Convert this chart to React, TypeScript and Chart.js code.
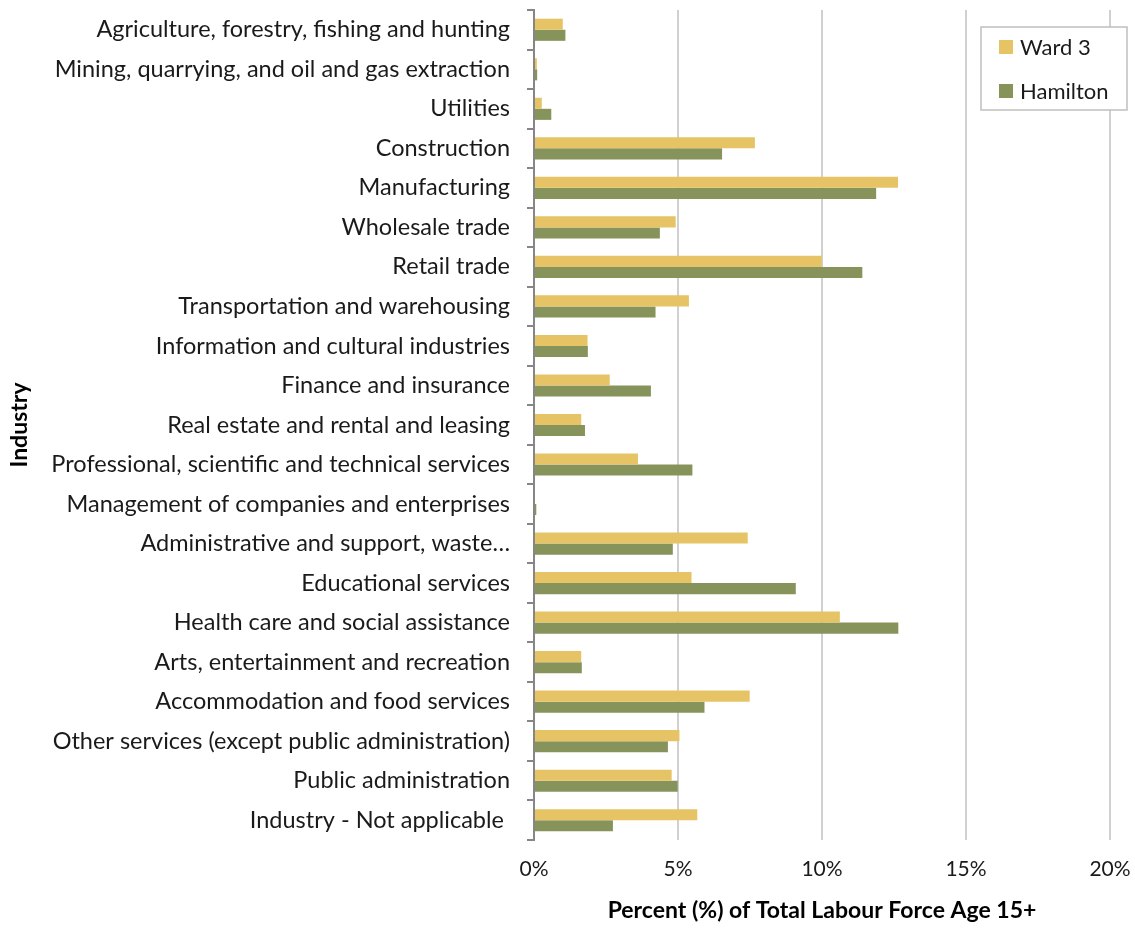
import React, { useEffect, useRef } from "react";
import { Chart, registerables } from "chart.js";

Chart.register(...registerables);

const categories: string[] = [
  "Agriculture, forestry, fishing and hunting",
  "Mining, quarrying, and oil and gas extraction",
  "Utilities",
  "Construction",
  "Manufacturing",
  "Wholesale trade",
  "Retail trade",
  "Transportation and warehousing",
  "Information and cultural industries",
  "Finance and insurance",
  "Real estate and rental and leasing",
  "Professional, scientific and technical services",
  "Management of companies and enterprises",
  "Administrative and support, waste…",
  "Educational services",
  "Health care and social assistance",
  "Arts, entertainment and recreation",
  "Accommodation and food services",
  "Other services (except public administration)",
  "Public administration",
  "Industry - Not applicable ",
];

const ward3: number[] = [
  1.0, 0.1, 0.27, 7.67, 12.64, 4.92, 9.99, 5.38, 1.86, 2.63, 1.64, 3.61, 0.0,
  7.42, 5.47, 10.62, 1.64, 7.49, 5.05, 4.78, 5.67,
];

const hamilton: number[] = [
  1.09, 0.11, 0.6, 6.53, 11.88, 4.37, 11.4, 4.22, 1.87, 4.06, 1.77, 5.5, 0.08,
  4.82, 9.09, 12.65, 1.66, 5.92, 4.65, 4.99, 2.74,
];

const seriesNames: string[] = ["Ward 3", "Hamilton"];
const seriesColors: string[] = ["#E6C466", "#86945C"];
const xTicks: number[] = [0, 5, 10, 15, 20];

const FONT = "Lato, 'Open Sans', sans-serif";

const legendBoxPlugin = {
  id: "legendBox",
  afterDraw(chart: any) {
    const { ctx, chartArea } = chart;
    const x = chartArea.right - 129;
    const y = chartArea.top + 17;
    const w = 146;
    const h = 83;
    ctx.save();
    ctx.fillStyle = "#ffffff";
    ctx.fillRect(x, y, w, h);
    ctx.strokeStyle = "#bfbfbf";
    ctx.lineWidth = 1.5;
    ctx.strokeRect(x, y, w, h);
    ctx.font = `22px ${FONT}`;
    ctx.textBaseline = "middle";
    ctx.textAlign = "left";
    chart.data.datasets.forEach((ds: any, i: number) => {
      const cy = y + 20 + i * 44;
      ctx.fillStyle = ds.backgroundColor;
      ctx.fillRect(x + 18, cy - 7, 14, 14);
      ctx.fillStyle = "#1a1a1a";
      ctx.fillText(ds.label, x + 39, cy + 1);
    });
    ctx.restore();
  },
};

export default function App() {
  const canvasRef = useRef<HTMLCanvasElement | null>(null);

  useEffect(() => {
    document.body.style.margin = "0";
    const canvas = canvasRef.current;
    if (!canvas) return;
    const chart = new Chart(canvas, {
      type: "bar",
      data: {
        labels: categories,
        datasets: [
          {
            label: seriesNames[0],
            data: ward3,
            backgroundColor: seriesColors[0],
            borderWidth: 0,
            categoryPercentage: 0.56,
            barPercentage: 1.0,
          },
          {
            label: seriesNames[1],
            data: hamilton,
            backgroundColor: seriesColors[1],
            borderWidth: 0,
            categoryPercentage: 0.56,
            barPercentage: 1.0,
          },
        ],
      },
      options: {
        indexAxis: "y",
        animation: false,
        responsive: false,
        maintainAspectRatio: false,
        layout: { padding: { top: 10, right: 25, left: 0, bottom: 0 } },
        plugins: {
          legend: { display: false },
          tooltip: { enabled: false },
        },
        scales: {
          x: {
            type: "linear",
            min: 0,
            max: 20,
            afterBuildTicks: (scale: any) => {
              scale.ticks = xTicks.map((v) => ({ value: v }));
            },
            afterFit: (scale: any) => {
              scale.height = 90;
              scale.paddingLeft = 0;
              scale.paddingRight = 0;
            },
            ticks: {
              callback: (v: any) => `${v}%`,
              color: "#1a1a1a",
              font: { family: FONT, size: 21 },
              padding: 17,
            },
            grid: {
              color: "#d0d0d0",
              lineWidth: 2,
              drawTicks: false,
            },
            border: { display: false },
            title: {
              display: true,
              text: "Percent (%) of Total Labour Force Age 15+",
              color: "#000000",
              font: { family: FONT, size: 23, weight: "bold" },
              padding: { top: 6, bottom: 6 },
            },
          },
          y: {
            type: "category",
            afterFit: (scale: any) => {
              scale.width = 534;
              scale.paddingTop = 0;
              scale.paddingBottom = 0;
            },
            ticks: {
              color: "#1a1a1a",
              font: { family: FONT, size: 23.5 },
              padding: 17,
              autoSkip: false,
            },
            grid: {
              offset: true,
              drawOnChartArea: false,
              drawTicks: true,
              tickLength: 7,
              color: "#868686",
              lineWidth: 2,
            },
            border: { display: true, color: "#868686", width: 2 },
            title: {
              display: true,
              text: "Industry",
              color: "#000000",
              font: { family: FONT, size: 23, weight: "bold" },
              padding: { top: 6, bottom: 4 },
            },
          },
        },
      },
      plugins: [legendBoxPlugin],
    });
    return () => chart.destroy();
  }, []);

  return (
    <div style={{ width: 1135, height: 930 }}>
      <canvas ref={canvasRef} width={1135} height={930} style={{ display: "block" }} />
    </div>
  );
}
